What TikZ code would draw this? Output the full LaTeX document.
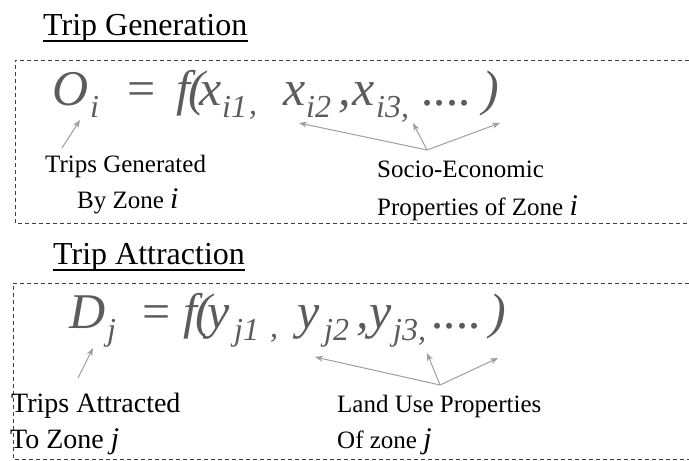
\documentclass[tikz,border=0pt]{standalone}
\usepackage{fontspec}
\setmainfont{Liberation Serif}[ItalicFont={Liberation Serif Italic}]
\usetikzlibrary{arrows.meta}
\definecolor{eqgray}{HTML}{5C5C5C}
\definecolor{arrgray}{HTML}{9E9E9E}
\definecolor{boxgray}{HTML}{404040}
\newcommand{\zonevar}[1]{{\fontsize{30}{30}\selectfont\itshape #1}}

\begin{document}
\begin{tikzpicture}[x=1pt, y=-1pt,
  every node/.style={inner sep=0pt, anchor=base west},
  title/.style={font=\fontsize{32}{38}\selectfont},
  eq/.style={text=eqgray, font=\fontsize{50}{60}\selectfont\itshape},
  eqsub/.style={text=eqgray, font=\fontsize{32}{38}\selectfont\itshape},
  eqrm/.style={text=eqgray, font=\fontsize{50}{60}\selectfont},
  lbl/.style={font=\fontsize{25}{30}\selectfont},
  biglbl/.style={font=\fontsize{28}{33}\selectfont},
  dashbox/.style={draw=boxgray, dash pattern=on 4pt off 3pt, line width=0.8pt},
  pointer/.style={draw=arrgray, line width=1pt, -{Stealth[length=8pt,width=6pt]}}]
  \useasboundingbox (0,0) rectangle (689,461);

  % trip generation
  \node[title] (gentitle) at (43,35) {Trip Generation};
  \draw[line width=1.6pt] ([yshift=1pt]gentitle.south west) -- ([yshift=1pt]gentitle.south east);
  \draw[dashbox] (689,60) -- (15,60) -- (15,223) -- (689,223);

  \node[eq] (O) at (52,105) {O};
  \node[eqsub] (Osub) at (90,117) {i};
  \node[eqrm] (eq1) at (127,105) {=};
  \node[eq] (f1) at (176,105) {f\kern-2pt(\kern-5pt x};
  \node[eqsub] (x1sub) at (222,117) {i1};
  \node[eqsub] (c1) at (249,114) {,};
  \node[eq] (x2) at (283,105) {x};
  \node[eqsub] (x2sub) at (306,117) {i2};
  \node[eq] (c2) at (338,105) {,};
  \node[eq] (x3) at (352,105) {x};
  \node[eqsub] (x3sub) at (376,117) {i3,};
  \node[eq] (dots1) at (422,105) {....};
  \node[eq] (par1) at (482,105) {)};

  \node[lbl] (genlbl1) at (45,172) {Trips Generated};
  \node[lbl] (genlbl2) at (77,208) {By Zone \zonevar{i}};
  \node[lbl] (socio1) at (377,177) {Socio-Economic};
  \node[lbl] (socio2) at (377,215) {Properties of Zone \zonevar{i}};

  \coordinate (gentail) at (62,148);
  \coordinate (gentip) at (80,120);
  \draw[pointer] (gentail) -- (gentip);
  \coordinate (sociohub) at (427,150);
  \coordinate (tipx2) at (299,123);
  \coordinate (tipx3) at (413,123);
  \coordinate (tippar1) at (500,123);
  \foreach \t in {tipx2,tipx3,tippar1}
    \draw[pointer] (sociohub) -- (\t);

  % trip attraction
  \node[title] (atttitle) at (53,264) {Trip Attraction};
  \draw[line width=1.6pt] ([yshift=1pt]atttitle.south west) -- ([yshift=1pt]atttitle.south east);
  \draw[dashbox] (689,283) -- (13,283) -- (13,459) -- (689,459);

  \node[eq] (D) at (69,328) {D};
  \node[eqsub] (Dsub) at (107,340) {j};
  \node[eqrm] (eq2) at (142,328) {=};
  \node[eq] (f2) at (183,328) {f\kern-2pt(\kern-4pt y};
  \node[eqsub] (y1sub) at (234,340) {j1};
  \node[eqsub] (c3) at (270,337) {,};
  \node[eq] (y2) at (297,328) {y};
  \node[eqsub] (y2sub) at (324,340) {j2};
  \node[eq] (c4) at (356,328) {,};
  \node[eq] (y3) at (369,328) {y};
  \node[eqsub] (y3sub) at (393,340) {j3,};
  \node[eq] (dots2) at (432,328) {....};
  \node[eq] (par2) at (489,328) {)};

  \node[biglbl] (attlbl1) at (11,412) {Trips Attracted};
  \node[biglbl] (attlbl2) at (10,448) {To Zone \zonevar{j}};
  \node[lbl] (land1) at (337,412) {Land Use Properties};
  \node[lbl] (land2) at (337,448) {Of zone \zonevar{j}};

  \coordinate (atttail) at (78,378);
  \coordinate (atttip) at (93,348);
  \draw[pointer] (atttail) -- (atttip);
  \coordinate (landhub) at (440,385);
  \coordinate (tipy2) at (315,357);
  \coordinate (tipy3) at (427,353);
  \coordinate (tippar2) at (498,358);
  \foreach \t in {tipy2,tipy3,tippar2}
    \draw[pointer] (landhub) -- (\t);
\end{tikzpicture}
\end{document}
